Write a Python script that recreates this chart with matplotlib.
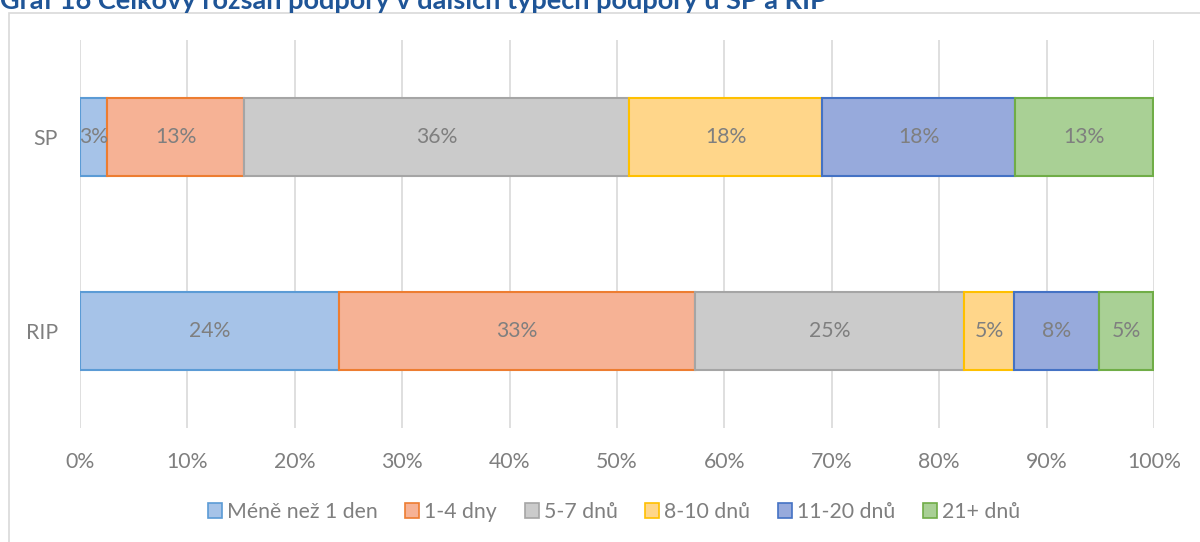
import matplotlib.pyplot as plt
from matplotlib.patches import Rectangle, Patch
import numpy as np

plt.rcParams['font.family'] = ['Lato', 'DejaVu Sans']

categories = ["RIP", "SP"]
series = ["Méně než 1 den", "1-4 dny", "5-7 dnů", "8-10 dnů", "11-20 dnů", "21+ dnů"]
rip = [24.1, 33.2, 25.0, 4.7, 7.9, 5.0]
sp = [2.5, 12.8, 35.8, 18.0, 18.0, 12.8]
rip_labels = ["24%", "33%", "25%", "5%", "8%", "5%"]
sp_labels = ["3%", "13%", "36%", "18%", "18%", "13%"]

fills = ["#A6C3E8", "#F6B295", "#CBCBCB", "#FFD68A", "#97AADC", "#A9D095"]
edges = ["#5B9BD5", "#ED7D31", "#A5A5A5", "#FFC000", "#4472C4", "#70AD47"]
txt = "#7F7F7F"

fig = plt.figure(figsize=(12, 5.42), dpi=100)
ax = fig.add_axes([80 / 1200, 1 - 428 / 542, 1074 / 1200, 388 / 542])

# chart frame
fig.patches.append(Rectangle((9 / 1200, -0.01), 1.0, 1 - 13 / 542 + 0.01,
                             transform=fig.transFigure, fill=False,
                             edgecolor="#D9D9D9", linewidth=1.2))
# title is clipped by the top edge, as in the source
fig.text(0.0, 1 - 9 / 542, "Graf 16 Celkový rozsah podpory v dalších typech podpory u SP a RIP",
         color="#1F5597", fontsize=19.5, fontweight="bold", ha="left", va="baseline")

data = np.array([rip, sp])
labels = [rip_labels, sp_labels]
y = np.arange(len(categories))
left = np.zeros(len(categories))
for i, name in enumerate(series):
    vals = data[:, i]
    ax.barh(y, vals, left=left, height=0.405, color=fills[i], edgecolor=edges[i],
            linewidth=1.5, label=name, zorder=3)
    for j in range(len(categories)):
        ax.text(left[j] + vals[j] / 2, y[j], labels[j][i], ha="center", va="center",
                color=txt, fontsize=15.2, zorder=4)
    left += vals

ax.set_xlim(0, 100)
ax.set_ylim(-0.5, 1.5)
ax.set_xticks(np.arange(0, 101, 10))
ax.set_xticklabels([f"{v}%" for v in range(0, 101, 10)])
ax.set_yticks(y)
ax.set_yticklabels(categories)
ax.tick_params(axis="both", length=0, colors=txt, labelsize=15.3)
ax.tick_params(axis="x", pad=17)
ax.tick_params(axis="y", pad=16)
ax.grid(axis="x", color="#D9D9D9", linewidth=1.2, zorder=0)
for s in ax.spines.values():
    s.set_visible(False)

handles = [Patch(facecolor=fills[i], edgecolor=edges[i], linewidth=1.2, label=series[i])
           for i in range(len(series))]
fig.legend(handles=handles, loc="center", bbox_to_anchor=(614 / 1200, 1 - 512 / 542),
           ncol=6, frameon=False, fontsize=15.3, handlelength=0.65, handleheight=0.65,
           handletextpad=0.25, columnspacing=1.3, labelcolor=txt)

fig.savefig("out.png", dpi=100)
